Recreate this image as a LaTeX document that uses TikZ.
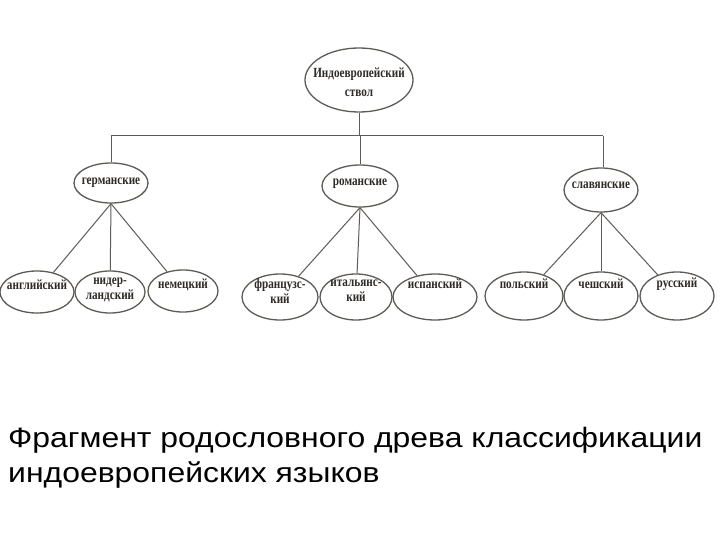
\documentclass[tikz,border=0pt]{standalone}
\usepackage{fontspec}
\setmainfont{Liberation Serif}
\newfontfamily\treefont[FakeStretch=0.8]{Liberation Serif Bold}
\newfontfamily\capfont[FakeStretch=1.14]{Liberation Sans}
\usetikzlibrary{shapes.geometric}
\definecolor{linegray}{HTML}{5E5A56}
\definecolor{inkcol}{HTML}{2E2A26}
\tikzset{
  oval/.style={ellipse, draw=linegray, line width=1.3pt, inner sep=0pt},
  lbl/.style={inner sep=0pt, text=inkcol, align=center,
    font=\treefont\fontsize{14}{15}\selectfont},
  branch/.style={draw=linegray, line width=1pt},
  caption/.style={anchor=base west, align=left, inner sep=0pt,
    font=\capfont\fontsize{28}{35}\selectfont, text=black}
}
\begin{document}
\begin{tikzpicture}[x=1pt,y=-1pt]
\useasboundingbox (0,0) rectangle (720,540);
\fill[white] (0,0) rectangle (720,540);
% root
\node[oval, minimum width=108, minimum height=64] (root) at (359,80) {};
\node[lbl] (root-t) at (359,82) {Индоевропейский\\[4pt]ствол};
% second level
\node[oval, minimum width=74, minimum height=40] (ger) at (111,183) {};
\node[lbl] (ger-t) at (111,183) {германские};
\node[oval, minimum width=76, minimum height=42] (rom) at (360,186) {};
\node[lbl] (rom-t) at (360,184) {романские};
\node[oval, minimum width=74, minimum height=44] (sla) at (601,190) {};
\node[lbl] (sla-t) at (601,185) {славянские};
% leaves
\node[oval, minimum width=74, minimum height=42] (eng) at (37,292) {};
\node[lbl] (eng-t) at (37,285) {английский};
\node[oval, minimum width=70, minimum height=42] (dut) at (110,292) {};
\node[lbl] (dut-t) at (110,290) {нидер-\\ландский};
\node[oval, minimum width=70, minimum height=42] (deu) at (183,291) {};
\node[lbl] (deu-t) at (183,285) {немецкий};
\node[oval, minimum width=76, minimum height=46] (fra) at (280,297) {};
\node[lbl] (fra-t) at (280,291) {французс-\\кий};
\node[oval, minimum width=72, minimum height=46] (ita) at (356,297) {};
\node[lbl] (ita-t) at (356,291) {итальянс-\\кий};
\node[oval, minimum width=84, minimum height=46] (spa) at (435,297) {};
\node[lbl] (spa-t) at (435,284) {испанский};
\node[oval, minimum width=78, minimum height=48] (pol) at (524,296) {};
\node[lbl] (pol-t) at (524,284) {польский};
\node[oval, minimum width=74, minimum height=48] (cze) at (601,296) {};
\node[lbl] (cze-t) at (601,284) {чешский};
\node[oval, minimum width=74, minimum height=48] (rus) at (677,296) {};
\node[lbl] (rus-t) at (677,284) {русский};
% connectors
\coordinate (hm) at (359,136);
\coordinate (hl) at (111,136);
\coordinate (hr) at (603,136);
\draw[branch] (root.south) -- (hm);
\draw[branch] (hl) -- (hr);
\draw[branch] (hl) -- (ger.north);
\draw[branch] (hm -| rom.north) -- (rom.north);
\draw[branch] (hr) -- (hr |- sla.north);
\foreach \p/\c in {ger/eng, ger/dut, ger/deu, rom/fra, rom/ita, rom/spa, sla/pol, sla/cze, sla/rus}
  \draw[branch] (\p.south) -- (\c);
% caption
\node[caption] (cap) at (8,482) {Фрагмент родословного древа классификации\\индоевропейских языков};
\end{tikzpicture}
\end{document}
